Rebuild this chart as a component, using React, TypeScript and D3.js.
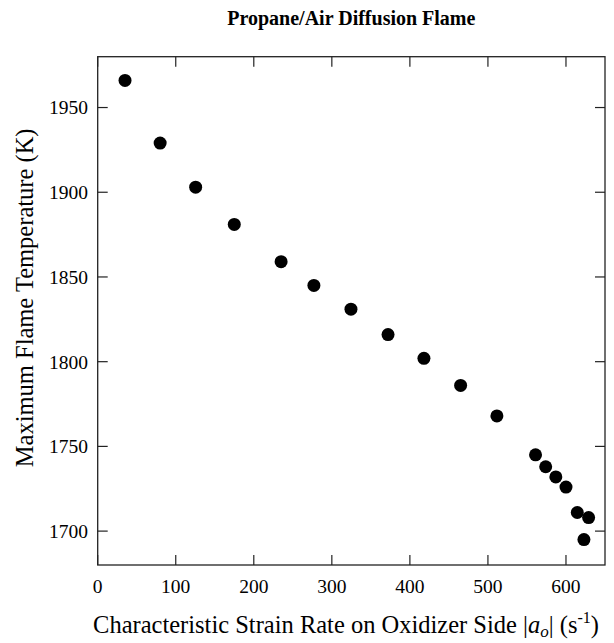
import React from "react";
import * as d3 from "d3";

// Strain rate (1/s) and peak flame temperature (K)
const strainRate = [35, 80, 125.5, 175, 235, 277, 324.5, 372, 418, 465, 511.5, 561, 574, 587, 600, 614.5, 629, 623];
const maxTemp = [1966, 1929, 1903, 1881, 1859, 1845, 1831, 1816, 1802, 1786, 1768, 1745, 1738, 1732, 1726, 1711, 1708, 1695];
const xTicks = [0, 100, 200, 300, 400, 500, 600];
const yTicks = [1700, 1750, 1800, 1850, 1900, 1950];

const W = 614;
const H = 643;
const M = { left: 97.7, right: 605, top: 56.7, bottom: 565 };
const FONT = "'Liberation Serif', 'DejaVu Serif', serif";

export default function App() {
  const x = d3.scaleLinear().domain([0, 650]).range([M.left, M.right]);
  const y = d3.scaleLinear().domain([1680, 1980]).range([M.bottom, M.top]);
  const tick = 10;
  const axisColor = "#222";

  return (
    <svg width={W} height={H} style={{ position: "absolute", left: 0, top: 0, background: "#fff" }}>
      <text x={(M.left + M.right) / 2} y={25} textAnchor="middle" fontFamily={FONT} fontWeight="bold" fontSize={20}>
        Propane/Air Diffusion Flame
      </text>

      {/* frame */}
      <rect x={M.left} y={M.top} width={M.right - M.left} height={M.bottom - M.top} fill="none" stroke={axisColor} strokeWidth={1.3} />

      {/* x ticks on bottom and top, pointing inward */}
      {xTicks.map((t) => (
        <g key={"x" + t}>
          <line x1={x(t)} x2={x(t)} y1={M.bottom} y2={M.bottom - tick} stroke={axisColor} strokeWidth={1.2} />
          <line x1={x(t)} x2={x(t)} y1={M.top} y2={M.top + tick} stroke={axisColor} strokeWidth={1.2} />
          <text x={x(t)} y={593} textAnchor="middle" fontFamily={FONT} fontSize={19.5}>
            {t}
          </text>
        </g>
      ))}

      {/* y ticks on left and right, pointing inward */}
      {yTicks.map((t) => (
        <g key={"y" + t}>
          <line x1={M.left} x2={M.left + tick} y1={y(t)} y2={y(t)} stroke={axisColor} strokeWidth={1.2} />
          <line x1={M.right} x2={M.right - tick} y1={y(t)} y2={y(t)} stroke={axisColor} strokeWidth={1.2} />
          <text x={88} y={y(t)} dy="0.35em" textAnchor="end" fontFamily={FONT} fontSize={19.5}>
            {t}
          </text>
        </g>
      ))}

      {/* data */}
      {strainRate.map((s, i) => (
        <circle key={i} cx={x(s)} cy={y(maxTemp[i])} r={6.5} fill="#000" />
      ))}

      {/* axis titles */}
      <text
        transform={`translate(33,${(M.top + M.bottom) / 2 - 13}) rotate(-90)`}
        textAnchor="middle"
        fontFamily={FONT}
        fontSize={24.5}
      >
        Maximum Flame Temperature (K)
      </text>
      <text x={346} y={633} textAnchor="middle" fontFamily={FONT} fontSize={24.5}>
        Characteristic Strain Rate on Oxidizer Side |<tspan fontStyle="italic">a</tspan>
        <tspan fontStyle="italic" fontSize={17} dy={4}>o</tspan>
        <tspan dy={-4}>| (s</tspan>
        <tspan fontSize={16} dy={-10}>-1</tspan>
        <tspan dy={10}>)</tspan>
      </text>
    </svg>
  );
}
